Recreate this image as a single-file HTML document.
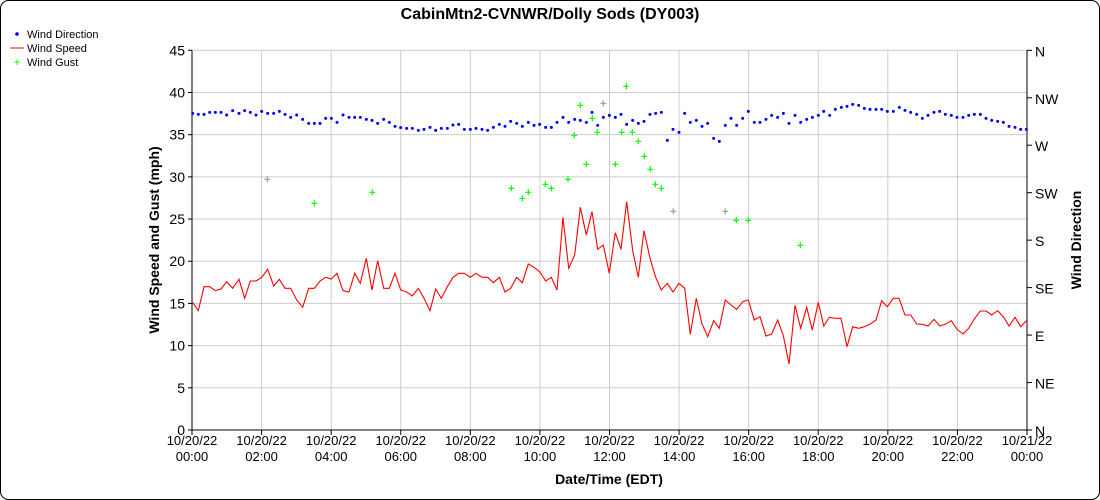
<!DOCTYPE html>
<html><head><meta charset="utf-8"><style>
html,body{margin:0;padding:0;background:#fff;}
svg{display:block;font-family:"Liberation Sans",sans-serif;}
</style></head><body>
<svg id="s" width="1100" height="500" xmlns="http://www.w3.org/2000/svg">
<rect x="0.5" y="0.5" width="1099" height="499" rx="8" fill="#fff" stroke="#000"/>
<text x="550" y="19" text-anchor="middle" font-size="16" font-weight="bold">CabinMtn2-CVNWR/Dolly Sods (DY003)</text>
<g font-size="11">
<circle cx="17" cy="34" r="1.8" fill="#00f"/><text x="27" y="38">Wind Direction</text>
<line x1="10" y1="48" x2="24" y2="48" stroke="#f00"/><text x="27" y="52">Wind Speed</text>
<text x="17" y="66" fill="#0f0" text-anchor="middle" font-size="12">+</text><text x="27" y="66">Wind Gust</text>
</g>
<g id="grid" stroke="#ccc" stroke-width="1"></g>
<g id="axes"></g>
<g id="data"></g>
<text transform="translate(159,240) rotate(-90)" text-anchor="middle" font-size="14" font-weight="bold">Wind Speed and Gust (mph)</text>
<text transform="translate(1081,240) rotate(-90)" text-anchor="middle" font-size="14" font-weight="bold">Wind Direction</text>
<text x="609" y="484" text-anchor="middle" font-size="14" font-weight="bold">Date/Time (EDT)</text>
</svg>
<script>
var NS="http://www.w3.org/2000/svg";
function el(p,t,a,txt){var e=document.createElementNS(NS,t);for(var k in a)e.setAttribute(k,a[k]);if(txt!=null)e.textContent=txt;document.getElementById(p).appendChild(e);return e;}
var X0=192,X1=1027,Y0=430,Y1=50.3;
for(var i=0;i<=12;i++){var x=X0+(X1-X0)*i/12;el("grid","line",{x1:x,y1:Y1,x2:x,y2:Y0});
 var lab=i==12?"10/21/22":"10/20/22";
 var hh=(i*2%24<10?"0":"")+(i*2%24)+":00";
 el("axes","text",{x:x,y:445,"text-anchor":"middle","font-size":13},lab);
 el("axes","text",{x:x,y:461,"text-anchor":"middle","font-size":13},hh);
 el("axes","line",{x1:x,y1:Y0,x2:x,y2:Y0+5,stroke:"#000"});
}
for(var v=0;v<=45;v+=5){var y=Y0-(Y0-Y1)*v/45;if(v>0)el("grid","line",{x1:X0,y1:y,x2:X1,y2:y});
 el("axes","text",{x:185,y:y+5,"text-anchor":"end","font-size":14},v);
 el("axes","line",{x1:X0-4,y1:y,x2:X0,y2:y,stroke:"#000"});}
var dirs=["N","NE","E","SE","S","SW","W","NW","N"];
for(var i=0;i<9;i++){var y=Y0-(Y0-Y1)*i/8;el("axes","text",{x:1035,y:y+6,"font-size":14},dirs[i]);
 el("axes","line",{x1:X1,y1:y,x2:X1+5,y2:y,stroke:"#000"});}
el("axes","line",{x1:X0,y1:Y1,x2:X0,y2:Y0,stroke:"#000"});
el("axes","line",{x1:X1,y1:Y1,x2:X1,y2:Y0,stroke:"#000"});
el("axes","line",{x1:X0,y1:Y0,x2:X1,y2:Y0,stroke:"#000"});
var r1=[8,668,25,692,42,620,59,620,76,632,93,627,110,605,128,625,147,598,164,655,181,603,198,603,215,592,233,568,251,618,268,598,285,625,302,625,320,660,338,682,356,625,373,625,390,603,407,592,424,597,441,580,459,632,477,636,494,580,511,610,529,535,546,630,563,542,581,625,598,625,615,580,632,630,650,636,667,648,685,625,702,655,720,692,737,627,754,655,772,620,789,592,806,580,823,580,841,592,858,580,876,592,893,592,910,608,928,592,945,636,962,625,980,592,997,608,1015,552,1032,562,1049,575,1067,603,1084,592,1101,630,1119,412,1136,565,1154,525,1171,382,1189,465,1206,395,1223,508,1240,495,1258,580];
var r2=[346,458,363,508,380,365,398,512,415,592,432,452,450,535,467,592,484,630,502,610,519,636,537,610,554,625,571,763,589,655,606,732,623,770,641,722,658,745,676,660,693,675,710,688,728,665,745,660,763,720,780,710,798,768,815,762,833,720,850,767,867,852,885,676,902,745,920,682,937,750,955,667];
var r3=[521,738,538,712,556,715,573,715,591,800,608,740,626,745,643,740,660,733,678,720,695,662,712,680,730,655,747,655,765,705,782,705,800,732,817,733,834,738,852,718,869,738,886,733,904,722,921,748,939,762,956,745,973,717,991,693,1008,693,1025,705,1043,692,1060,710,1077,738,1095,712,1112,740,1129,722];
function conv(a,ox,oy){var o=[];for(var i=0;i<a.length;i+=2)o.push([ox+a[i]/3,oy+a[i+1]/3]);return o;}
var red=conv(r1,190,80).concat(conv(r2,500,80),conv(r3,650,80));
el("data","polyline",{points:red.map(function(p){return p[0].toFixed(1)+","+p[1].toFixed(1)}).join(" "),fill:"none",stroke:"#f00","stroke-width":1.1});
var b1=[8,100,25,103,42,103,59,97,76,97,93,97,110,105,128,92,147,100,164,92,181,97,198,105,215,94,233,100,251,100,268,94,285,103,302,112,320,105,338,118,356,130,373,130,390,130,407,115,424,115,441,127,459,105,477,112,494,112,511,112,529,118,546,121,563,130,581,118,598,127,615,139,632,143,650,145,667,145,685,151,702,148,720,142,737,151,754,145,772,145,789,135,806,133,823,148,841,148,858,145,876,148,893,151,910,142,928,133,945,139,962,124,980,130,997,139,1015,127,1032,136,1049,133,1067,142,1084,142,1101,127,1119,112,1136,127,1154,118,1171,121,1189,127,1206,97,1223,136,1240,112,1258,106];
var b2=[346,112,363,103,380,133,398,121,415,130,432,124,450,103,467,100,484,97,502,181,519,148,537,157,554,100,571,127,589,121,606,139,623,130,641,175,658,184,676,136,693,115,710,136,728,115,745,94,763,127,780,127,798,118,815,106,833,112,850,100,867,130,885,106,902,127,920,118,937,112,955,106];
var b3=[521,94,539,106,556,88,574,82,591,79,608,73,626,76,643,85,660,88,678,88,695,88,712,94,730,94,748,82,765,91,782,97,800,103,817,115,834,106,852,97,869,94,886,103,904,106,921,112,939,112,956,106,973,103,991,103,1008,115,1025,121,1043,124,1060,127,1077,139,1095,142,1112,148,1129,148];
conv(b1,190,80).concat(conv(b2,500,80),conv(b3,650,80)).forEach(function(p){el("data","circle",{cx:p[0],cy:p[1],r:1.5,fill:"#00f"});});
var g=[[267.3,179.3,1],[314.3,203.3],[372.3,192.3],[511.3,188.3],[522.3,198.3],[528.3,192.3],[545.3,184.3],[551.3,188.3],[568,179.3],[574.3,135.3],[580.3,105.3],[586.3,164.3],[592.3,118.3],[597.3,132.3],[603.3,103.3,1],[615.3,164.3],[621.7,132.3],[626.3,86.3],[632.3,132.3],[638.3,141.3],[644.3,156.3],[650.3,169.3],[655.3,184.3],[661.3,188.3],[673.3,211.3,1],[725.3,211.3,1],[736.3,220.3],[748.3,220.3],[800.3,245.3]];
g.forEach(function(p){var c=p[2]?"#8a8":"#0f0";el("data","path",{d:"M"+(p[0]-3)+" "+p[1]+"h6M"+p[0]+" "+(p[1]-3)+"v6",stroke:c,"stroke-width":1.2});});
</script>
</body></html>
